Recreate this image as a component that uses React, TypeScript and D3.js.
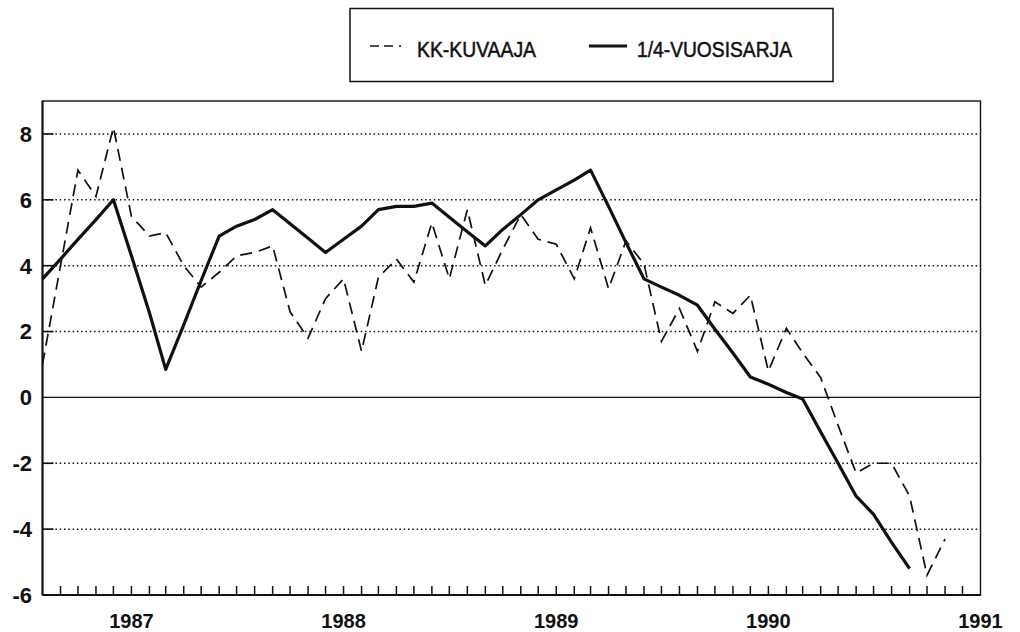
import React, { useEffect, useRef } from "react";
import * as d3 from "d3";

// first month on the axis (Aug 1986), both series start there
const startMonth = new Date(1986, 7, 1);
const endDate = new Date(1991, 0, 1);

// monthly series, dashed
const kkValues = [
  1.0, 4.0, 6.9, 6.1, 8.2, 5.5, 4.9, 5.0, 4.0, 3.35, 3.8, 4.3, 4.4, 4.6, 2.6,
  1.8, 3.0, 3.6, 1.4, 3.65, 4.2, 3.5, 5.3, 3.6, 5.7, 3.4, 4.5, 5.55, 4.8, 4.65,
  3.6, 5.15, 3.3, 4.75, 4.05, 1.7, 2.7, 1.4, 2.9, 2.55, 3.1, 0.8, 2.1, 1.35,
  0.6, -0.85, -2.3, -2.0, -2.0, -3.0, -5.4, -4.3,
];

// quarterly series, solid (read month by month)
const quarterValues = [
  3.6, 4.2, 4.8, 5.4, 6.0, 4.3, 2.57, 0.85, 2.2, 3.55, 4.9, 5.2, 5.4, 5.7, 5.27,
  4.83, 4.4, 4.8, 5.2, 5.7, 5.8, 5.8, 5.9, 5.47, 5.03, 4.6, 5.1, 5.55, 6.0, 6.3,
  6.6, 6.9, 5.8, 4.7, 3.6, 3.35, 3.1, 2.8, 2.07, 1.35, 0.62, 0.4, 0.15, -0.05,
  -1.05, -2.0, -3.0, -3.55, -4.4, -5.2,
];

const yTicks = [-6, -4, -2, 0, 2, 4, 6, 8];
const gridTicks = [-4, -2, 2, 4, 6, 8];
const yearLabels = ["1987", "1988", "1989", "1990", "1991"];
const legendLabels = ["KK-KUVAAJA", "1/4-VUOSISARJA"];

const FONT = "'Liberation Sans', Arial, sans-serif";

function App() {
  const svgRef = useRef<SVGSVGElement | null>(null);

  useEffect(() => {
    const width = 1020;
    const height = 632;
    const left = 42.5;
    const right = 980.5;
    const top = 101;
    const bottom = 595;

    const svg = d3.select(svgRef.current);
    svg.selectAll("*").remove();
    svg.attr("width", width).attr("height", height);

    const x = d3.scaleTime().domain([startMonth, endDate]).range([left, right]);
    const y = d3.scaleLinear().domain([-6, 9]).range([bottom, top]);

    const monthOf = (i: number) => d3.timeMonth.offset(startMonth, i);

    /* grid */
    svg
      .append("g")
      .selectAll("line")
      .data(gridTicks)
      .enter()
      .append("line")
      .attr("x1", left)
      .attr("x2", right)
      .attr("y1", (d) => y(d))
      .attr("y2", (d) => y(d))
      .attr("stroke", "#111")
      .attr("stroke-width", 1.5)
      .attr("stroke-dasharray", "1.5 2.8");

    // zero line
    svg
      .append("line")
      .attr("x1", left)
      .attr("x2", right)
      .attr("y1", y(0))
      .attr("y2", y(0))
      .attr("stroke", "#111")
      .attr("stroke-width", 1.4);

    /* frame */
    svg
      .append("rect")
      .attr("x", left)
      .attr("y", top)
      .attr("width", right - left)
      .attr("height", bottom - top)
      .attr("fill", "none")
      .attr("stroke", "#111")
      .attr("stroke-width", 1.4);
    svg
      .append("line")
      .attr("x1", left)
      .attr("x2", left)
      .attr("y1", top)
      .attr("y2", bottom)
      .attr("stroke", "#111")
      .attr("stroke-width", 2);
    svg
      .append("line")
      .attr("x1", left)
      .attr("x2", right)
      .attr("y1", bottom)
      .attr("y2", bottom)
      .attr("stroke", "#111")
      .attr("stroke-width", 2.2);

    /* y ticks + labels */
    svg
      .append("g")
      .selectAll("line")
      .data(yTicks.filter((d) => d !== -6 && d !== 0))
      .enter()
      .append("line")
      .attr("x1", left)
      .attr("x2", left + 11)
      .attr("y1", (d) => y(d))
      .attr("y2", (d) => y(d))
      .attr("stroke", "#111")
      .attr("stroke-width", 1.6);

    svg
      .append("g")
      .selectAll("text")
      .data(yTicks)
      .enter()
      .append("text")
      .attr("x", 32)
      .attr("y", (d) => y(d))
      .attr("dy", "0.36em")
      .attr("text-anchor", "end")
      .style("font-family", FONT)
      .style("font-size", "22px")
      .style("font-weight", "bold")
      .attr("fill", "#111")
      .text((d) => d);

    /* x ticks (monthly, pointing inward) */
    svg
      .append("g")
      .selectAll("line")
      .data(d3.timeMonth.range(d3.timeMonth.offset(startMonth, 1), endDate))
      .enter()
      .append("line")
      .attr("x1", (d) => x(d))
      .attr("x2", (d) => x(d))
      .attr("y1", bottom)
      .attr("y2", bottom - 9)
      .attr("stroke", "#111")
      .attr("stroke-width", 1.5);

    svg
      .append("g")
      .selectAll("text")
      .data(yearLabels)
      .enter()
      .append("text")
      .attr("x", (d) => x(new Date(+d, 0, 1)))
      .attr("y", 628)
      .attr("text-anchor", "middle")
      .style("font-family", FONT)
      .style("font-size", "20px")
      .style("font-weight", "bold")
      .attr("fill", "#111")
      .text((d) => d);

    /* lines */
    const line = d3
      .line<number>()
      .x((d, i) => x(monthOf(i)))
      .y((d) => y(d));

    svg
      .append("path")
      .datum(kkValues)
      .attr("d", line)
      .attr("fill", "none")
      .attr("stroke", "#111")
      .attr("stroke-width", 1.7)
      .attr("stroke-dasharray", "12 7");

    svg
      .append("path")
      .datum(quarterValues)
      .attr("d", line)
      .attr("fill", "none")
      .attr("stroke", "#111")
      .attr("stroke-width", 3.2)
      .attr("stroke-linejoin", "round");

    /* legend */
    const legend = svg.append("g");
    legend
      .append("rect")
      .attr("x", 350)
      .attr("y", 8.5)
      .attr("width", 483)
      .attr("height", 73)
      .attr("fill", "none")
      .attr("stroke", "#111")
      .attr("stroke-width", 1.5);

    legend
      .append("line")
      .attr("x1", 370)
      .attr("x2", 408)
      .attr("y1", 46)
      .attr("y2", 46)
      .attr("stroke", "#111")
      .attr("stroke-width", 1.6)
      .attr("stroke-dasharray", "9 5 9 6 2");
    legend
      .append("line")
      .attr("x1", 589)
      .attr("x2", 627)
      .attr("y1", 46)
      .attr("y2", 46)
      .attr("stroke", "#111")
      .attr("stroke-width", 3);

    const legendX = [417, 637];
    const legendW = [119, 155];
    legend
      .selectAll("text")
      .data(legendLabels)
      .enter()
      .append("text")
      .attr("x", (d, i) => legendX[i])
      .attr("y", 57)
      .attr("textLength", (d, i) => legendW[i])
      .attr("lengthAdjust", "spacingAndGlyphs")
      .style("font-family", FONT)
      .style("font-size", "22px")
      .attr("fill", "#111")
      .attr("stroke", "#111")
      .attr("stroke-width", 0.5)
      .text((d) => d);
  }, []);

  return (
    <div style={{ position: "absolute", left: 0, top: 0, background: "#fff" }}>
      <svg ref={svgRef} style={{ display: "block" }}></svg>
    </div>
  );
}

export default App;
